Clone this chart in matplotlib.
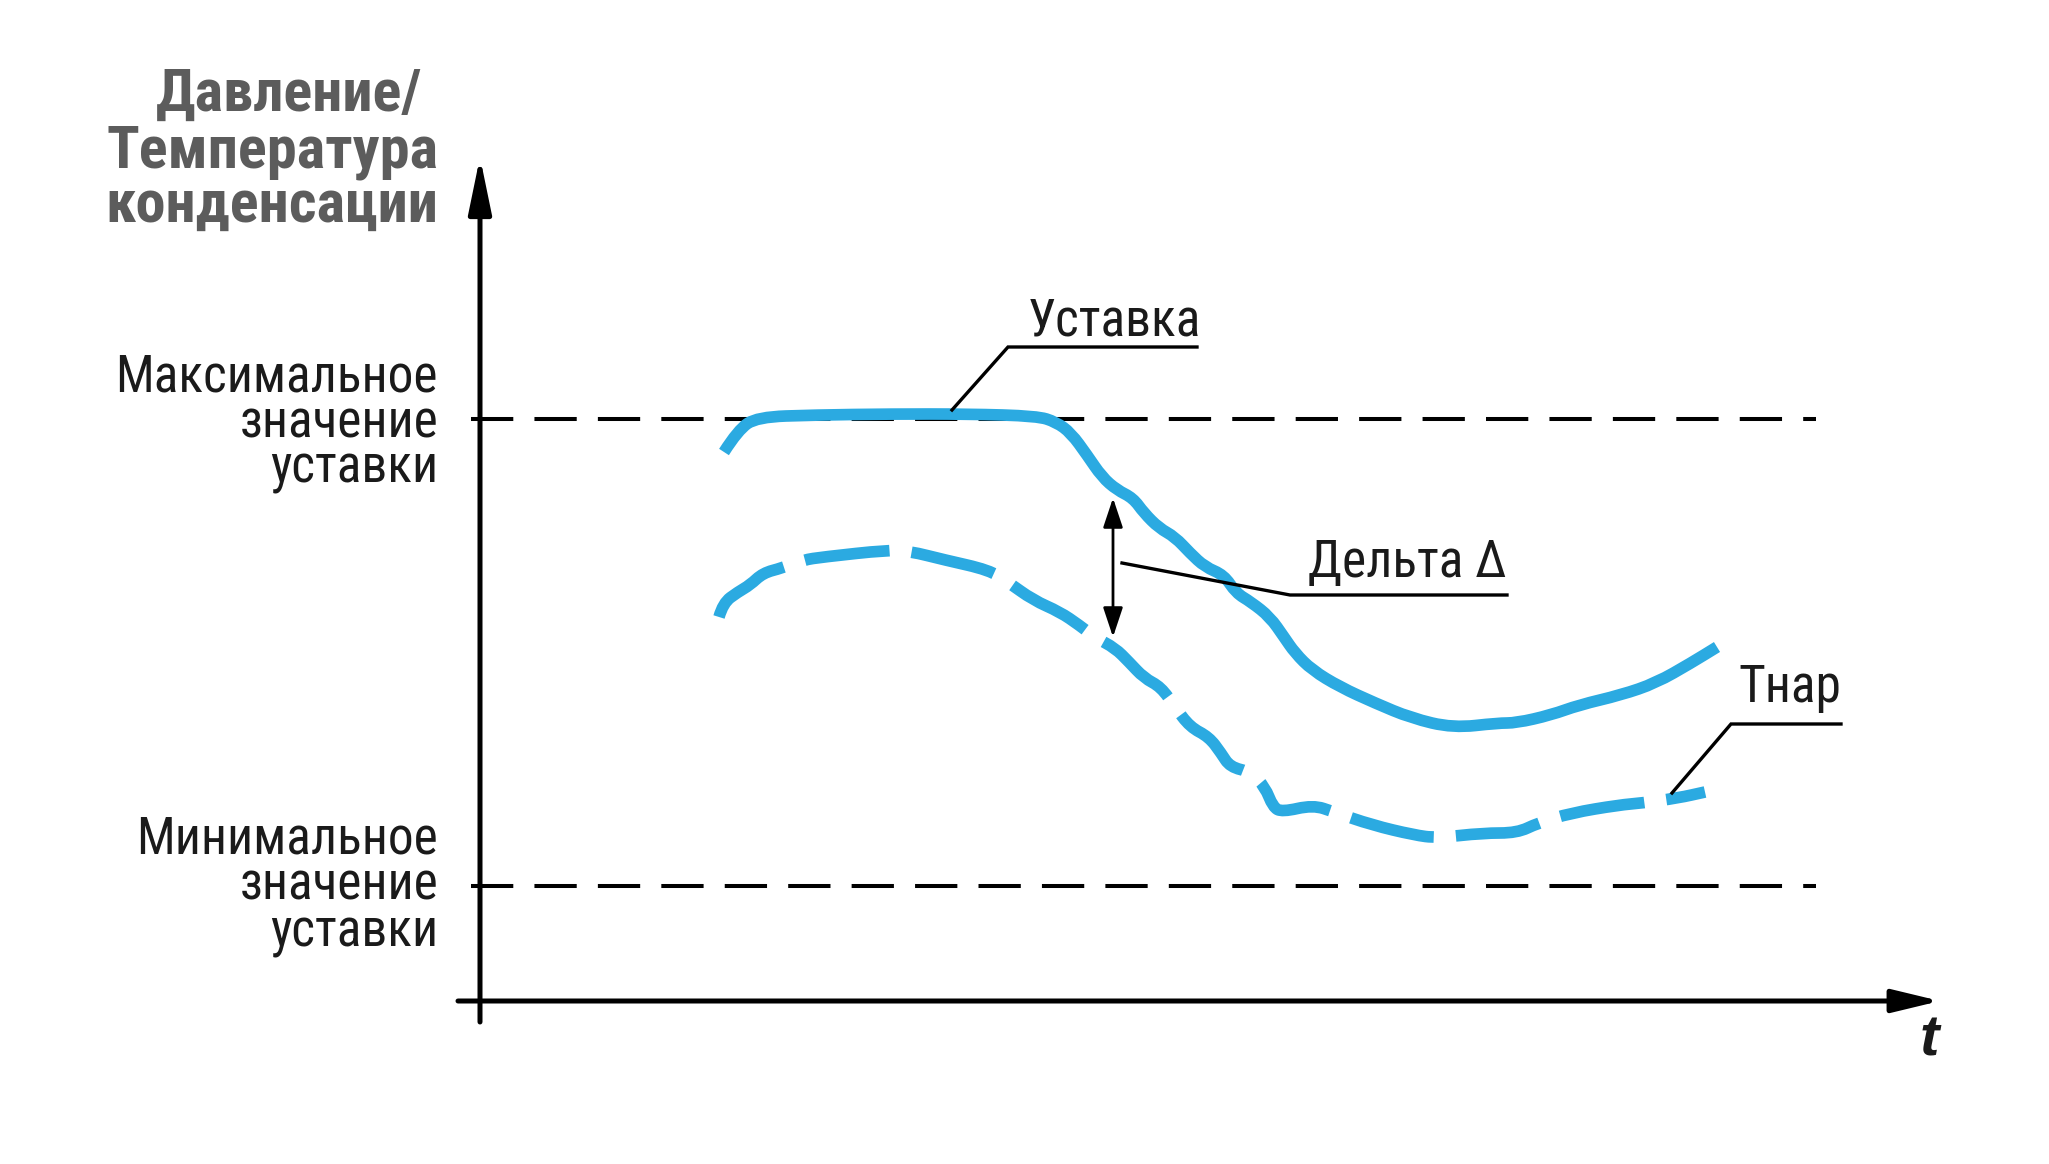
"""Condensing pressure / setpoint sketch: setpoint curve vs outdoor temperature."""

import matplotlib

matplotlib.use("Agg")

import matplotlib.pyplot as plt
from matplotlib import font_manager
from matplotlib.path import Path
from matplotlib.patches import PathPatch

# chart units: t along the time axis, v along the value axis (axis origin = 0, 0)
setpoint_t = [24.4, 25.8, 27.7, 33.5, 41.1, 48.8, 55.7, 57.6, 59.1, 60.7, 62.2, 63.7,
              65.3, 66.4, 67.9, 69.5, 71.0, 72.5, 74.4, 75.6, 77.1, 79.0, 80.4, 81.5,
              83.2, 86.0, 89.5, 93.1, 97.3, 101.8, 103.6, 107.1, 109.9, 114.1, 117.6,
              121.1, 123.7]
setpoint_v = [54.9, 57.1, 58.4, 58.6, 58.7, 58.7, 58.5, 57.9, 56.8, 54.6, 52.4, 51.1,
              50.3, 48.8, 47.3, 46.4, 44.8, 43.4, 42.6, 40.8, 39.9, 38.4, 36.4, 34.8,
              33.1, 31.4, 29.8, 28.3, 27.3, 27.8, 27.8, 28.6, 29.6, 30.6, 31.8,
              33.8, 35.4]

outdoor_t = [23.9, 24.3, 25.8, 27.0, 28.3, 30.2, 32.3, 34.3, 40.8, 42.9, 46.5, 50.9,
             52.8, 55.3, 58.0, 59.9, 61.6, 63.5, 64.9, 66.4, 68.1, 69.5, 71.0, 72.9,
             74.1, 75.0, 77.1, 78.5, 79.3, 80.2, 83.3, 85.4, 89.2, 93.4, 95.7, 100.3,
             103.7, 105.8, 109.1, 113.9, 116.2, 119.8, 122.5]
outdoor_v = [38.4, 39.8, 40.9, 41.6, 42.8, 43.3, 44.1, 44.4, 45.1, 45.0, 44.1, 43.1,
             41.9, 40.1, 38.9, 37.6, 36.3, 35.3, 33.9, 32.3, 31.4, 29.4, 27.4, 26.4,
             24.8, 23.4, 22.9, 21.4, 19.4, 18.9, 19.6, 18.9, 17.6, 16.6, 16.3, 16.8,
             16.8, 17.8, 18.8, 19.6, 19.8, 20.3, 20.9]

max_setpoint = 58.2
min_setpoint = 11.5
ref_t = [-0.9, 133.6]

delta_t = 63.3
delta_v = [50.3, 36.4]

y_label_lines = ["Давление/", "Температура", "конденсации"]
max_label_lines = ["Максимальное", "значение", "уставки"]
min_label_lines = ["Минимальное", "значение", "уставки"]

BLUE = "#2BAAE1"
INK = "#1a1a1a"
GREY = "#5c5c5c"

available = {f.name for f in font_manager.fontManager.ttflist}
FONT = next((name for name in ["Liberation Sans Narrow", "Roboto Condensed", "Roboto"]
             if name in available), "Liberation Sans")
FAMILY = [FONT, "DejaVu Sans"]


def smooth_path(xs, ys):
    """Quadratic B-spline style path through the read-off points."""
    pts = list(zip(xs, ys))
    verts = [pts[0]]
    codes = [Path.MOVETO]
    for i in range(1, len(pts) - 1):
        mid = ((pts[i][0] + pts[i + 1][0]) / 2, (pts[i][1] + pts[i + 1][1]) / 2)
        verts += [pts[i], mid]
        codes += [Path.CURVE3, Path.CURVE3]
    verts.append(pts[-1])
    codes.append(Path.LINETO)
    return Path(verts, codes)


fig = plt.figure(figsize=(20.49, 11.64), dpi=100)
ax = fig.add_axes([0, 0, 1, 1])
ax.set_xlim(-48.0, 156.9)
ax.set_ylim(-16.3, 100.1)
ax.axis("off")

# reference levels
for level in (max_setpoint, min_setpoint):
    ax.plot(ref_t, [level, level], color="black", lw=2.9, dashes=(10.5, 5.25),
            solid_capstyle="butt", zorder=2)

# axes with arrow heads
ax.annotate("", xy=(0, 84.4), xytext=(0, -2.1),
            arrowprops=dict(arrowstyle="-|>,head_length=3.4,head_width=0.7",
                            mutation_scale=10, lw=3.6, color="black",
                            shrinkA=0, shrinkB=0), zorder=3)
ax.annotate("", xy=(146.0, 0), xytext=(-2.2, 0),
            arrowprops=dict(arrowstyle="-|>,head_length=2.9,head_width=0.7",
                            mutation_scale=10, lw=3.6, color="black",
                            shrinkA=0, shrinkB=0), zorder=3)

# curves
ax.add_patch(PathPatch(smooth_path(setpoint_t, setpoint_v), fill=False, edgecolor=BLUE,
                       lw=8.4, capstyle="butt", joinstyle="round", zorder=4))
ax.add_patch(PathPatch(smooth_path(outdoor_t, outdoor_v), fill=False, edgecolor=BLUE,
                       lw=8.4, linestyle=(0, (7.3, 1.9)), capstyle="butt",
                       joinstyle="round", zorder=4))

# delta double arrow
ax.annotate("", xy=(delta_t, delta_v[0]), xytext=(delta_t, delta_v[1]),
            arrowprops=dict(arrowstyle="<|-|>,head_length=1.8,head_width=0.6",
                            mutation_scale=10, lw=2.0, color="black",
                            shrinkA=0, shrinkB=0), zorder=5)

# leader lines and callouts
leaders = [
    ([47.2, 52.8, 71.7], [59.1, 65.4, 65.4], "Уставка", (54.8, 66.6)),
    ([64.2, 81.0, 102.7], [43.8, 40.6, 40.6], "Дельта Δ", (82.8, 42.4)),
    ([119.2, 125.1, 136.1], [20.8, 27.7, 27.7], "Тнар", (125.8, 29.9)),
]
for xs, ys, text, (tx, ty) in leaders:
    ax.plot(xs, ys, color="black", lw=2.4, solid_joinstyle="miter", zorder=6)
    ax.text(tx, ty, text, ha="left", va="baseline", fontsize=37,
            family=FAMILY, color=INK, zorder=6)

# left-hand labels
for line, x, y in zip(y_label_lines, [-5.8, -4.2, -4.2], [89.0, 83.4, 77.9]):
    ax.text(x, y, line, ha="right", va="baseline", fontsize=43.5, fontweight="bold",
            family=FAMILY, color=GREY)
for line, y in zip(max_label_lines, [61.0, 56.4, 51.8]):
    ax.text(-4.2, y, line, ha="right", va="baseline", fontsize=37,
            family=FAMILY, color=INK)
for line, y in zip(min_label_lines, [14.8, 10.1, 5.4]):
    ax.text(-4.2, y, line, ha="right", va="baseline", fontsize=37,
            family=FAMILY, color=INK)

ax.text(144.9, -5.4, "t", ha="center", va="baseline", fontsize=42,
        fontweight="bold", fontstyle="italic", family=["Liberation Sans", "DejaVu Sans"],
        color=INK)

fig.savefig("out.png", dpi=100)
plt.close(fig)
